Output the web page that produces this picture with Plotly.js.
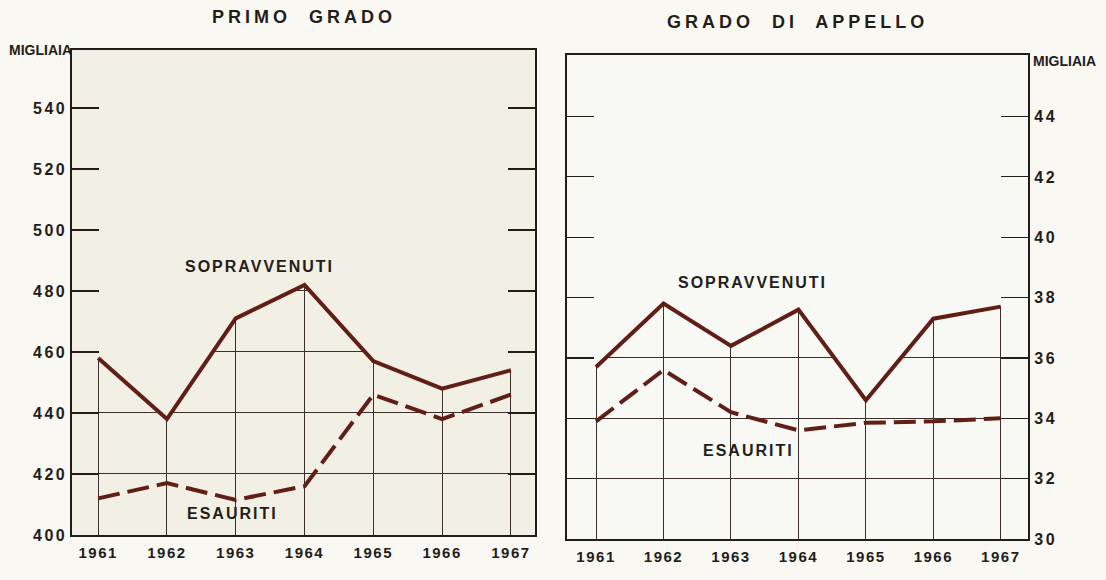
<!DOCTYPE html>
<html><head><meta charset="utf-8">
<script src="https://cdn.plot.ly/plotly-3.0.1.min.js"></script>
<style>
html,body{margin:0;padding:0;background:#f9f8f3;}
.xtick text,.x2tick text{letter-spacing:1.5px;}
.ytick text,.y2tick text{letter-spacing:2.5px;}
.annotation[data-index="0"] .annotation-text,.annotation[data-index="1"] .annotation-text{letter-spacing:4px;}
.annotation[data-index="2"] .annotation-text,.annotation[data-index="3"] .annotation-text{letter-spacing:0px;}
.annotation[data-index="4"] .annotation-text,.annotation[data-index="5"] .annotation-text,
.annotation[data-index="6"] .annotation-text,.annotation[data-index="7"] .annotation-text{letter-spacing:2px;}
</style></head><body><div id="chart" style="width:1106px;height:580px;"></div>
<script>
const years = [1961, 1962, 1963, 1964, 1965, 1966, 1967];
const yearLabels = ['1961', '1962', '1963', '1964', '1965', '1966', '1967'];
const primoSopravvenuti = [458, 438, 471, 482, 457, 448, 454];
const primoEsauriti = [412, 417, 411.5, 416, 446, 438, 446];
const appelloSopravvenuti = [35.7, 37.8, 36.4, 37.6, 34.6, 37.3, 37.7];
const appelloEsauriti = [33.9, 35.6, 34.2, 33.6, 33.85, 33.9, 34.0];
const primoTicks = [400, 420, 440, 460, 480, 500, 520, 540];
const appelloTicks = [30, 32, 34, 36, 38, 40, 42, 44];

const INK = '#231d1a';
const LINE = '#601e15';
const FONT = 'Liberation Sans';
const X1 = [1960.62, 1967.35], Y1 = [400, 559];
const X2 = [1960.57, 1967.41], Y2 = [30, 46.04];
const BG1 = '#f2efe4', BG2 = '#f8f8f4';

function mask(xa, ya, xr, yr, vals, color) {
  const xs = [xr[0]].concat(years, [xr[1]]);
  const top = xs.map(() => yr[1]);
  const bot = [vals[0]].concat(vals, [vals[vals.length - 1]]);
  return [
    {x: xs, y: top, xaxis: xa, yaxis: ya, mode: 'lines', line: {width: 0, color: color}, hoverinfo: 'skip', showlegend: false},
    {x: xs, y: bot, xaxis: xa, yaxis: ya, mode: 'lines', line: {width: 0, color: color}, fill: 'tonexty', fillcolor: color, hoverinfo: 'skip', showlegend: false}
  ];
}
function series(xa, ya, vals, dash) {
  return {x: years, y: vals, xaxis: xa, yaxis: ya, mode: 'lines',
    line: {color: LINE, width: 4, dash: dash}, showlegend: false};
}

const data = [].concat(
  mask('x', 'y', X1, Y1, primoSopravvenuti, BG1),
  mask('x2', 'y2', X2, Y2, appelloSopravvenuti, BG2),
  [series('x', 'y', primoSopravvenuti, 'solid'),
   series('x', 'y', primoEsauriti, '22px,8px'),
   series('x2', 'y2', appelloSopravvenuti, 'solid'),
   series('x2', 'y2', appelloEsauriti, '22px,8px')]
);

function xax(domain, range, anchor) {
  return {domain: domain, range: range, anchor: anchor, tickvals: years, ticktext: yearLabels,
    showgrid: true, gridcolor: '#3a2f2a', gridwidth: 1, showline: true, mirror: true,
    linecolor: INK, linewidth: 1.6, ticks: '', zeroline: false, ticklabelstandoff: 3,
    tickfont: {family: FONT, size: 15, color: INK, weight: 'bold'}, fixedrange: true};
}
function yax(domain, range, anchor, ticks, side, standoff) {
  return {domain: domain, range: range, anchor: anchor, tickvals: ticks, side: side,
    showgrid: true, gridcolor: '#3a2f2a', gridwidth: 1, showline: true, mirror: 'ticks',
    linecolor: INK, linewidth: 1.6, ticks: 'inside', ticklen: 27, tickwidth: 1.2, tickcolor: INK,
    zeroline: false, ticklabelstandoff: standoff, tickfont: {family: FONT, size: 16, color: INK, weight: 'bold'}, fixedrange: true};
}

function lbl(text, x, y, xref, yref, size) {
  return {text: text, x: x, y: y, xref: xref, yref: yref, showarrow: false,
    font: {family: FONT, size: size, color: INK, weight: 'bold'}, xanchor: 'center', yanchor: 'middle'};
}

const layout = {
  width: 1106, height: 580, margin: {l: 0, r: 0, t: 0, b: 0},
  paper_bgcolor: '#f9f8f3', plot_bgcolor: 'rgba(0,0,0,0)', showlegend: false,
  xaxis: xax([0.0651, 0.4837], X1, 'y'),
  yaxis: yax([0.0776, 0.9138], Y1, 'x', primoTicks, 'left', 0),
  xaxis2: xax([0.5127, 0.9299], X2, 'y2'),
  yaxis2: yax([0.0707, 0.9052], Y2, 'x2', appelloTicks, 'right', 1),
  shapes: [
    {type: 'rect', xref: 'x domain', yref: 'y domain', x0: 0, x1: 1, y0: 0, y1: 1, fillcolor: BG1, line: {width: 0}, layer: 'below'},
    {type: 'rect', xref: 'x2 domain', yref: 'y2 domain', x0: 0, x1: 1, y0: 0, y1: 1, fillcolor: BG2, line: {width: 0}, layer: 'below'}
  ],
  annotations: [
    lbl('PRIMO  GRADO', 0.2749, 0.9712, 'paper', 'paper', 18),
    lbl('GRADO  DI  APPELLO', 0.7215, 0.9626, 'paper', 'paper', 18),
    lbl('MIGLIAIA', 0.0362, 0.9138, 'paper', 'paper', 14),
    lbl('MIGLIAIA', 0.9625, 0.8955, 'paper', 'paper', 14),
    lbl('SOPRAVVENUTI', 1963.35, 488.1, 'x', 'y', 16),
    lbl('ESAURITI', 1962.96, 407.2, 'x', 'y', 16),
    lbl('SOPRAVVENUTI', 1963.32, 38.49, 'x2', 'y2', 16),
    lbl('ESAURITI', 1963.26, 32.92, 'x2', 'y2', 16)
  ]
};

Plotly.newPlot('chart', data, layout, {displayModeBar: false, staticPlot: true});
</script></body></html>
